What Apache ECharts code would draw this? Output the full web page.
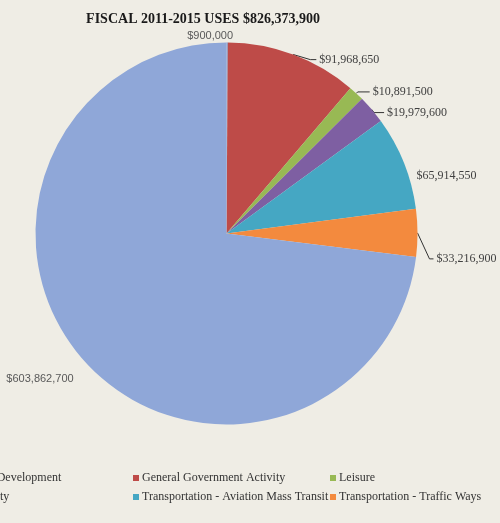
<!DOCTYPE html>
<html>
<head>
<meta charset="utf-8">
<script src="https://cdn.jsdelivr.net/npm/echarts@6/dist/echarts.min.js"></script>
<style>html,body{margin:0;padding:0;background:#EFEDE5;}#c{width:500px;height:523px;}</style>
</head>
<body>
<div id="c"></div>
<script>
// ---- data ----
const categories = [
  "Economic Development",
  "General Government Activity",
  "Leisure",
  "Public Safety",
  "Transportation - Aviation Mass Transit",
  "Transportation - Traffic Ways",
  "Utilities"
];
const values = [900000, 91968650, 10891500, 19979600, 65914550, 33216900, 603862700];
const titleText = "FISCAL 2011-2015 USES $826,373,900";

// ---- styles ----
const colors = ["#7F9CD2", "#BE4B48", "#98B954", "#7E5FA2", "#45A7C3", "#F38A3E", "#8FA7D8"];
const labelFonts = ["sans", "serif", "serif", "serif", "serif", "serif", "sans"];
const lineShow = [false, true, true, true, false, true, false];
const lineLen = [[4, 0], [2, 6], [2, 12], [3, 10], [5, 5], [1, 4], [5, 5]];
const labelShift = [[-43, -3], [16.5, 7], [0, 0], [0, 5], [0, 15], [11, 26], [2, 16]];

function fmt(v) { return "$" + v.toLocaleString("en-US"); }

const pieData = categories.map((name, i) => ({
  name: name,
  value: values[i],
  itemStyle: { color: colors[i] },
  label: labelFonts[i] === "sans"
    ? { fontFamily: "Liberation Sans", fontSize: 11, color: "#595959" }
    : { fontFamily: "Liberation Serif", fontSize: 12, color: "#404040" },
  labelLine: { show: lineShow[i], length: lineLen[i][0], length2: lineLen[i][1] }
}));

const chart = echarts.init(document.getElementById("c"), null, { renderer: "canvas" });
const legendCols = [
  [categories[0], categories[3]],
  [categories[1], categories[4]],
  [categories[2], categories[5]]
];
const legendLeft = [-64, 133, 330];
chart.setOption({
  backgroundColor: "#EFEDE5",
  animation: false,
  title: {
    text: titleText,
    left: 198,
    textAlign: "center",
    top: 7,
    textStyle: { fontFamily: "Liberation Serif", fontWeight: "bold", fontSize: 14, color: "#1a1a1a" }
  },
  legend: legendCols.map((d, i) => ({
    data: d,
    orient: "vertical",
    left: legendLeft[i],
    top: 472,
    padding: 0,
    itemWidth: 6,
    itemHeight: 6,
    itemGap: 7,
    icon: "rect",
    selectedMode: false,
    textStyle: { fontFamily: "Liberation Serif", fontSize: 12, color: "#333", padding: [0, 0, 0, -2] }
  })),
  series: [{
    type: "pie",
    center: [226.5, 233.5],
    radius: 191,
    startAngle: 90,
    clockwise: true,
    avoidLabelOverlap: false,
    label: { show: true, position: "outside", formatter: p => fmt(p.value), distanceToLabelLine: 3 },
    labelLine: { lineStyle: { color: "#333", width: 1 } },
    labelLayout: function (p) {
      const s = labelShift[p.dataIndex];
      const out = { dx: s[0], dy: s[1] };
      const pts = p.labelLinePoints;
      if (pts && pts.length === 3) {
        out.labelLinePoints = [
          [pts[0][0], pts[0][1]],
          [pts[1][0] + s[0], pts[1][1] + s[1]],
          [pts[2][0] + s[0], pts[2][1] + s[1]]
        ];
      }
      return out;
    },
    emphasis: { disabled: true },
    data: pieData
  }]
});
</script>
</body>
</html>
